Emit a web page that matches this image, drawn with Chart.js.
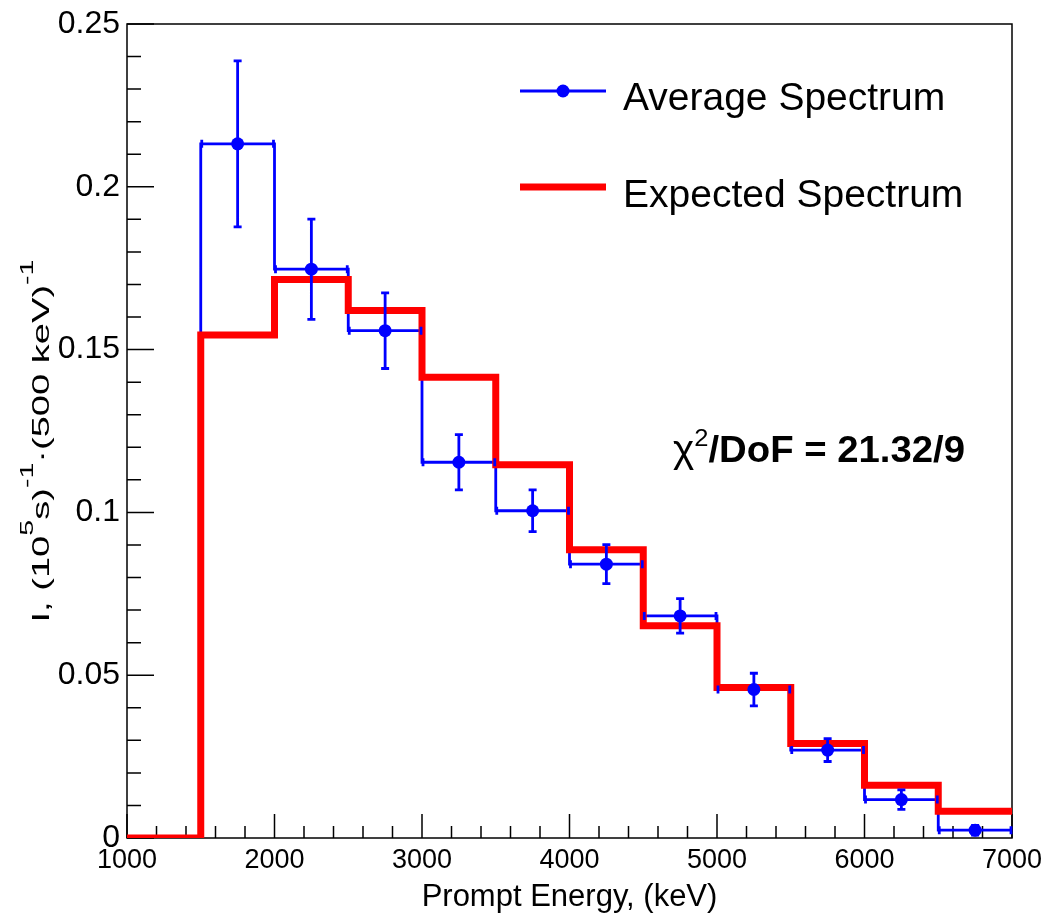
<!DOCTYPE html>
<html><head><meta charset="utf-8">
<script src="https://cdn.jsdelivr.net/npm/chart.js@4.4.1/dist/chart.umd.min.js"></script>
<style>html,body{margin:0;padding:0;background:#fff;overflow:hidden}</style>
</head><body>
<canvas id="c" width="1045" height="923" style="display:block;width:1045px;height:923px"></canvas>
<script>
// ---- data ----
const binEdges = [1000, 1500, 2000, 2500, 3000, 3500, 4000, 4500, 5000, 5500, 6000, 6500, 7000];
const expectedSpectrum = [0, 0.1545, 0.1715, 0.1620, 0.1415, 0.1146, 0.0885, 0.0652, 0.0462, 0.0290, 0.0162, 0.0082];
const averageEdges = [1500, 2000, 2500, 3000, 3500, 4000, 4500, 5000, 5500, 6000, 6500, 7000];
const averageSpectrum = [0.2132, 0.1747, 0.1558, 0.1154, 0.1005, 0.0841, 0.0682, 0.0456, 0.0270, 0.0118, 0.0024];
const averageError = [0.0255, 0.0154, 0.0116, 0.0085, 0.0064, 0.0060, 0.0053, 0.0050, 0.0035, 0.0030, 0.0015];
const xTickValues = [1000, 2000, 3000, 4000, 5000, 6000, 7000];
const yTickValues = [0, 0.05, 0.1, 0.15, 0.2, 0.25];
const seriesNames = ['Average Spectrum', 'Expected Spectrum'];
const xTitle = 'Prompt Energy, (keV)';
const fitText = ['\u03C7', '2', '/DoF = 21.32/9'];

const FONT = '"Liberation Sans", Arial, Helvetica, sans-serif';
const BLUE = '#0000ff', RED = '#ff0000';

// ---- derived point lists ----
function stepPoints(edges, values, startAtZero) {
  const pts = [];
  if (startAtZero) pts.push({x: edges[0], y: 0});
  for (let i = 0; i < edges.length; i++) {
    pts.push({x: edges[i], y: values[Math.min(i, values.length - 1)]});
  }
  return pts;
}
const avgCenters = averageSpectrum.map((v, i) => ({x: (averageEdges[i] + averageEdges[i + 1]) / 2, y: v}));

function drawRich(ctx, parts, targetWidth) {
  let w = 0;
  parts.forEach(p => { ctx.font = (p.weight || 'normal') + ' ' + p.size + 'px ' + FONT; p.w = ctx.measureText(p.t).width; w += p.w; });
  const s = targetWidth ? targetWidth / w : 1;
  return {w, s, draw: (x0, y0, center) => {
    ctx.save();
    ctx.translate(x0, y0);
    ctx.scale(s, 1);
    let x = center ? -w / 2 : 0;
    ctx.textBaseline = 'alphabetic';
    ctx.textAlign = 'left';
    parts.forEach(p => {
      ctx.font = (p.weight || 'normal') + ' ' + p.size + 'px ' + FONT;
      ctx.fillText(p.t, x, -(p.rise || 0));
      x += p.w;
    });
    ctx.restore();
  }};
}

const decor = {
  id: 'decor',
  beforeDatasetsDraw(chart) {
    const {ctx, chartArea: a, scales: {x, y}} = chart;
    ctx.save();
    ctx.strokeStyle = '#000';
    ctx.lineWidth = 1.5;
    ctx.strokeRect(a.left, a.top, a.right - a.left, a.bottom - a.top);
    ctx.beginPath();
    const xMinor = (xTickValues[1] - xTickValues[0]) / 5;
    for (let v = x.min; v <= x.max + 1e-6; v += xMinor) {
      const px = x.getPixelForValue(v);
      const major = xTickValues.some(t => Math.abs(t - v) < 1e-6);
      ctx.moveTo(px, a.bottom);
      ctx.lineTo(px, a.bottom - (major ? 24 : 12));
    }
    const yMinor = (yTickValues[1] - yTickValues[0]) / 5;
    for (let k = 0; k * yMinor <= y.max + 1e-9; k++) {
      const v = k * yMinor;
      const py = y.getPixelForValue(v);
      const major = yTickValues.some(t => Math.abs(t - v) < 1e-9);
      ctx.moveTo(a.left, py);
      ctx.lineTo(a.left + (major ? 27 : 14), py);
    }
    ctx.stroke();
    ctx.restore();
  },
  afterDatasetsDraw(chart) {
    const {ctx, chartArea: a, scales: {x, y}} = chart;
    ctx.save();
    // error bars
    ctx.strokeStyle = BLUE;
    ctx.lineWidth = 2.8;
    ctx.beginPath();
    averageSpectrum.forEach((v, i) => {
      const cx = x.getPixelForValue(avgCenters[i].x);
      const yt = y.getPixelForValue(v + averageError[i]);
      const yb = y.getPixelForValue(v - averageError[i]);
      const yc = y.getPixelForValue(v);
      ctx.moveTo(cx, yt); ctx.lineTo(cx, yb);
      ctx.moveTo(cx - 4, yt); ctx.lineTo(cx + 4, yt);
      ctx.moveTo(cx - 4, yb); ctx.lineTo(cx + 4, yb);
      const xl = x.getPixelForValue(averageEdges[i]);
      const xr = x.getPixelForValue(averageEdges[i + 1]);
      ctx.moveTo(xl + 1, yc - 4); ctx.lineTo(xl + 1, yc + 4);
      ctx.moveTo(xr - 1, yc - 4); ctx.lineTo(xr - 1, yc + 4);
    });
    ctx.stroke();

    // legend
    const lx0 = a.left + 393, lx1 = a.left + 479, tx = a.left + 496;
    const l1 = a.top + 67, l2 = a.top + 163;
    ctx.strokeStyle = BLUE; ctx.lineWidth = 3;
    ctx.beginPath(); ctx.moveTo(lx0, l1); ctx.lineTo(lx1, l1); ctx.stroke();
    ctx.fillStyle = BLUE;
    ctx.beginPath(); ctx.arc((lx0 + lx1) / 2, l1, 6.5, 0, Math.PI * 2); ctx.fill();
    ctx.strokeStyle = RED; ctx.lineWidth = 7;
    ctx.beginPath(); ctx.moveTo(lx0, l2); ctx.lineTo(lx1, l2); ctx.stroke();
    ctx.fillStyle = '#000';
    ctx.font = '39px ' + FONT;
    ctx.textAlign = 'left'; ctx.textBaseline = 'alphabetic';
    ctx.fillText(seriesNames[0], tx, l1 + 19);
    ctx.fillText(seriesNames[1], tx, l2 + 20);

    // chi2 annotation
    const chi = drawRich(ctx, [
      {t: fitText[0], size: 38},
      {t: fitText[1], size: 24, rise: 16},
      {t: fitText[2], size: 36, weight: 'bold'}
    ], 292);
    chi.draw(a.left + 546, a.top + 438, false);

    // y axis title (rotated)
    const yt = drawRich(ctx, [
      {t: 'I, (10', size: 24},
      {t: '5', size: 18, rise: 16},
      {t: 's)', size: 24},
      {t: '-1', size: 18, rise: 16},
      {t: '\u00B7(500 keV)', size: 24},
      {t: '-1', size: 18, rise: 16}
    ], 363);
    ctx.save();
    ctx.translate(49, (a.top + a.bottom) / 2 + 10);
    ctx.rotate(-Math.PI / 2);
    yt.draw(0, 0, true);
    ctx.restore();
    ctx.restore();
  }
};

new Chart(document.getElementById('c'), {
  type: 'line',
  data: {
    datasets: [
      {label: seriesNames[0] + ' points', data: avgCenters, showLine: false, pointRadius: 6.5, pointHoverRadius: 6.5,
       pointBackgroundColor: BLUE, pointBorderWidth: 0, borderColor: BLUE},
      {label: seriesNames[1], data: stepPoints(binEdges, expectedSpectrum, false), stepped: true,
       borderColor: RED, borderWidth: 7, pointRadius: 0, fill: false, borderJoinStyle: 'miter', borderCapStyle: 'butt'},
      {label: seriesNames[0], data: stepPoints(averageEdges, averageSpectrum, true), stepped: true,
       borderColor: BLUE, borderWidth: 2.8, pointRadius: 0, fill: false, borderJoinStyle: 'miter'}
    ]
  },
  options: {
    responsive: false,
    animation: false,
    devicePixelRatio: 1,
    events: [],
    layout: {padding: {top: 24, right: 33, left: 0, bottom: 0}},
    plugins: {legend: {display: false}, tooltip: {enabled: false}, title: {display: false}},
    scales: {
      x: {
        type: 'linear', min: 1000, max: 7000,
        afterBuildTicks: s => { s.ticks = xTickValues.map(v => ({value: v})); },
        afterFit: s => { s.height = 85; s.paddingLeft = 0; s.paddingRight = 0; },
        ticks: {callback: v => String(v), color: '#000', font: {family: FONT, size: 27, lineHeight: 1}, padding: 9.5, maxRotation: 0, autoSkip: false},
        grid: {display: false, drawTicks: false},
        border: {display: false},
        title: {display: true, text: xTitle, color: '#000', font: {family: FONT, size: 31}, padding: {top: 0, bottom: 7}}
      },
      y: {
        type: 'linear', min: 0, max: 0.25,
        afterBuildTicks: s => { s.ticks = yTickValues.map(v => ({value: v})); },
        afterFit: s => { s.width = 127; s.paddingTop = 0; s.paddingBottom = 0; },
        ticks: {callback: v => String(Math.round(v * 100) / 100), color: '#000', font: {family: FONT, size: 32, lineHeight: 1}, padding: 7, autoSkip: false},
        grid: {display: false, drawTicks: false},
        border: {display: false}
      }
    }
  },
  plugins: [decor]
});
</script>
</body></html>
